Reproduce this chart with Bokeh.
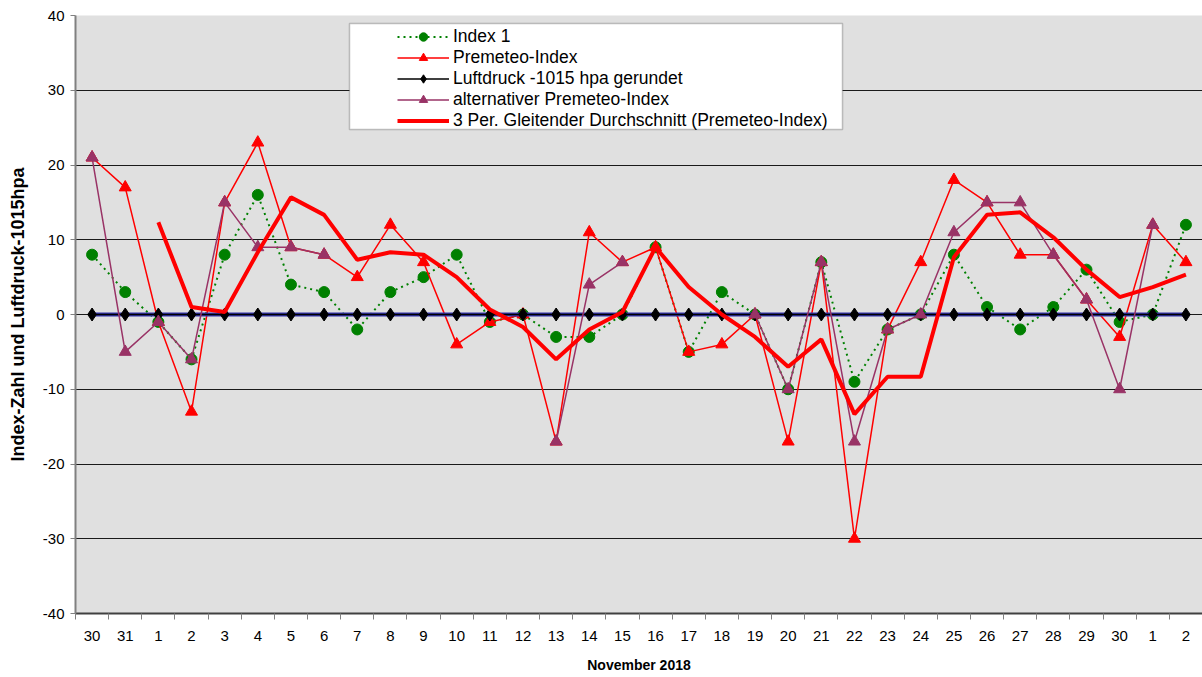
import numpy as np
from bokeh.plotting import figure
from bokeh.models import ColumnDataSource, FixedTicker, Legend, LegendItem, BoxAnnotation
from bokeh.embed import file_html
from bokeh.resources import INLINE

nan = float("nan")

# category labels (30 Oct .. 2 Dec)
days = ["30", "31", "1", "2", "3", "4", "5", "6", "7", "8", "9", "10", "11", "12",
        "13", "14", "15", "16", "17", "18", "19", "20", "21", "22", "23", "24",
        "25", "26", "27", "28", "29", "30", "1", "2"]

index1 = [8, 3, -1, -6, 8, 16, 4, 3, -2, 3, 5, 8, -1, 0, -3, -3, 0, 9, -5, 3, 0,
          -10, 7, -9, -2, 0, 8, 1, -2, 1, 6, -1, 0, 12]

premeteo = [21, 17, -1, -13, 15, 23, 9, 8, 5, 12, 7, -4, -1, 0, -17, 11, 7, 9, -5,
            -4, 0, -17, 7, -30, -2, 7, 18, 15, 8, 8, 2, -3, 12, 7]

luftdruck = [0, 0, 0, 0, 0, 0, 0, 0, 0, 0, 0, 0, 0, 0, 0, 0, 0, 0, 0, 0, 0, 0, 0,
             0, 0, 0, 0, 0, 0, 0, 0, 0, 0, 0]

alternativ = [21, -5, -1, -6, 15, 9, 9, 8, nan, nan, nan, nan, nan, nan, -17, 4, 7,
              nan, nan, nan, 0, -10, 7, -17, -2, 0, 11, 15, 15, 8, 2, -10, 12, nan]

gleitend = [nan, nan, 12.33, 1.0, 0.33, 8.33, 15.67, 13.33, 7.33, 8.33, 8.0, 5.0,
            0.67, -1.67, -6.0, -2.0, 0.33, 9.0, 3.67, 0.0, -3.0, -7.0, -3.33, -13.33,
            -8.33, -8.33, 7.67, 13.33, 13.67, 10.33, 6.0, 2.33, 3.67, 5.33]

y_ticks = [-40, -30, -20, -10, 0, 10, 20, 30, 40]
grid_ticks = [-30, -20, -10, 0, 10, 20, 30]

FONT = "Liberation Sans"

x = list(range(len(days)))
src = ColumnDataSource(dict(
    x=np.array(x, dtype=float),
    index1=np.array(index1, dtype=float),
    prem=np.array(premeteo, dtype=float),
    luft=np.array(luftdruck, dtype=float),
    alt=np.array(alternativ, dtype=float),
    gl=np.array(gleitend, dtype=float),
))

p = figure(width=1202, height=677, output_backend="svg", toolbar_location=None,
           x_range=(-0.5, len(days) - 0.5), y_range=(y_ticks[0], y_ticks[-1]),
           min_border_left=75, min_border_right=0, min_border_top=15,
           min_border_bottom=64)
p.background_fill_color = "#E0E0E0"
p.border_fill_color = "white"
p.outline_line_color = None

# grid
p.xgrid.visible = False
p.ygrid.ticker = FixedTicker(ticks=grid_ticks)
p.ygrid.grid_line_color = "#1a1a1a"
p.ygrid.grid_line_width = 1

# y axis
p.yaxis.ticker = FixedTicker(ticks=y_ticks, minor_ticks=[])
p.yaxis.major_label_overrides = {t: str(t) for t in y_ticks}
p.yaxis.axis_line_color = "#808080"
p.yaxis.axis_line_width = 2
p.yaxis.major_tick_line_color = "#808080"
p.yaxis.major_tick_out = 5
p.yaxis.major_tick_in = 0
p.yaxis.major_label_standoff = 6
p.yaxis.major_label_text_font = FONT
p.yaxis.major_label_text_font_size = "15px"
p.yaxis.major_label_text_color = "black"
p.yaxis.axis_label = "Index-Zahl und Luftdruck-1015hpa"
p.yaxis.axis_label_text_font = FONT
p.yaxis.axis_label_text_font_size = "18px"
p.yaxis.axis_label_text_font_style = "bold"
p.yaxis.axis_label_text_color = "black"
p.yaxis.axis_label_standoff = 12

# x axis: labels at category centres, tick marks at boundaries
p.xaxis.ticker = FixedTicker(ticks=x, minor_ticks=[i - 0.5 for i in range(len(days) + 1)])
p.xaxis.major_label_overrides = {i: d for i, d in enumerate(days)}
p.xaxis.axis_line_color = "#404040"
p.xaxis.axis_line_width = 2
p.xaxis.major_tick_out = 0
p.xaxis.major_tick_in = 0
p.xaxis.minor_tick_out = 6
p.xaxis.minor_tick_in = 0
p.xaxis.minor_tick_line_color = "#808080"
p.xaxis.major_label_standoff = 11
p.xaxis.major_label_text_font = FONT
p.xaxis.major_label_text_font_size = "15px"
p.xaxis.major_label_text_color = "black"
p.xaxis.axis_label = "November 2018"
p.xaxis.axis_label_text_font = FONT
p.xaxis.axis_label_text_font_size = "14px"
p.xaxis.axis_label_text_font_style = "bold"
p.xaxis.axis_label_text_color = "black"
p.xaxis.axis_label_standoff = 13

GREEN = "#008000"
RED = "#FF0000"
PURPLE = "#993366"

r1l = p.line("x", "index1", source=src, line_color=GREEN, line_width=2, line_dash="2 4")
r1s = p.scatter("x", "index1", source=src, marker="circle", size=11,
                fill_color=GREEN, line_color=GREEN)

r2l = p.line("x", "prem", source=src, line_color=RED, line_width=1.5)
r2s = p.scatter("x", "prem", source=src, marker="triangle", size=12,
                fill_color=RED, line_color=RED)

p.line("x", "luft", source=src, line_color="#3333AA", line_width=4)
r3l = p.line("x", "luft", source=src, line_color="black", line_width=1.5)
r3s = p.scatter("x", "luft", source=src, marker="diamond", size=13,
                fill_color="black", line_color="black")

r4l = p.line("x", "alt", source=src, line_color=PURPLE, line_width=1.5)
r4s = p.scatter("x", "alt", source=src, marker="triangle", size=12,
                fill_color=PURPLE, line_color=PURPLE)

r5 = p.line("x", "gl", source=src, line_color=RED, line_width=4)

# cropped red title box at the very top (above the frame)
title_box = BoxAnnotation(left=715, right=894, top=0, bottom=3,
                          left_units="canvas", right_units="canvas",
                          top_units="canvas", bottom_units="canvas",
                          fill_alpha=0.0, line_color=RED, line_width=2,
                          level="overlay")
p.add_layout(title_box)

# legend box
box = BoxAnnotation(left=349, right=842, top=23, bottom=129,
                    left_units="canvas", right_units="canvas",
                    top_units="canvas", bottom_units="canvas",
                    fill_color="white", fill_alpha=1.0,
                    line_color="#404040", line_width=1.5)
p.add_layout(box)

legend = Legend(items=[
    LegendItem(label="Index 1", renderers=[r1l, r1s]),
    LegendItem(label="Premeteo-Index", renderers=[r2l, r2s]),
    LegendItem(label="Luftdruck -1015 hpa gerundet", renderers=[r3l, r3s]),
    LegendItem(label="alternativer Premeteo-Index", renderers=[r4l, r4s]),
    LegendItem(label="3 Per. Gleitender Durchschnitt (Premeteo-Index)", renderers=[r5]),
], location=(322, 482), padding=0, spacing=0, margin=0,
    glyph_width=52, glyph_height=21, label_height=21, label_standoff=4,
    label_text_font=FONT, label_text_font_size="17.5px", label_text_color="black",
    border_line_color=None, background_fill_alpha=0.0)
p.add_layout(legend)

open("out.html", "w").write(file_html(p, INLINE))
